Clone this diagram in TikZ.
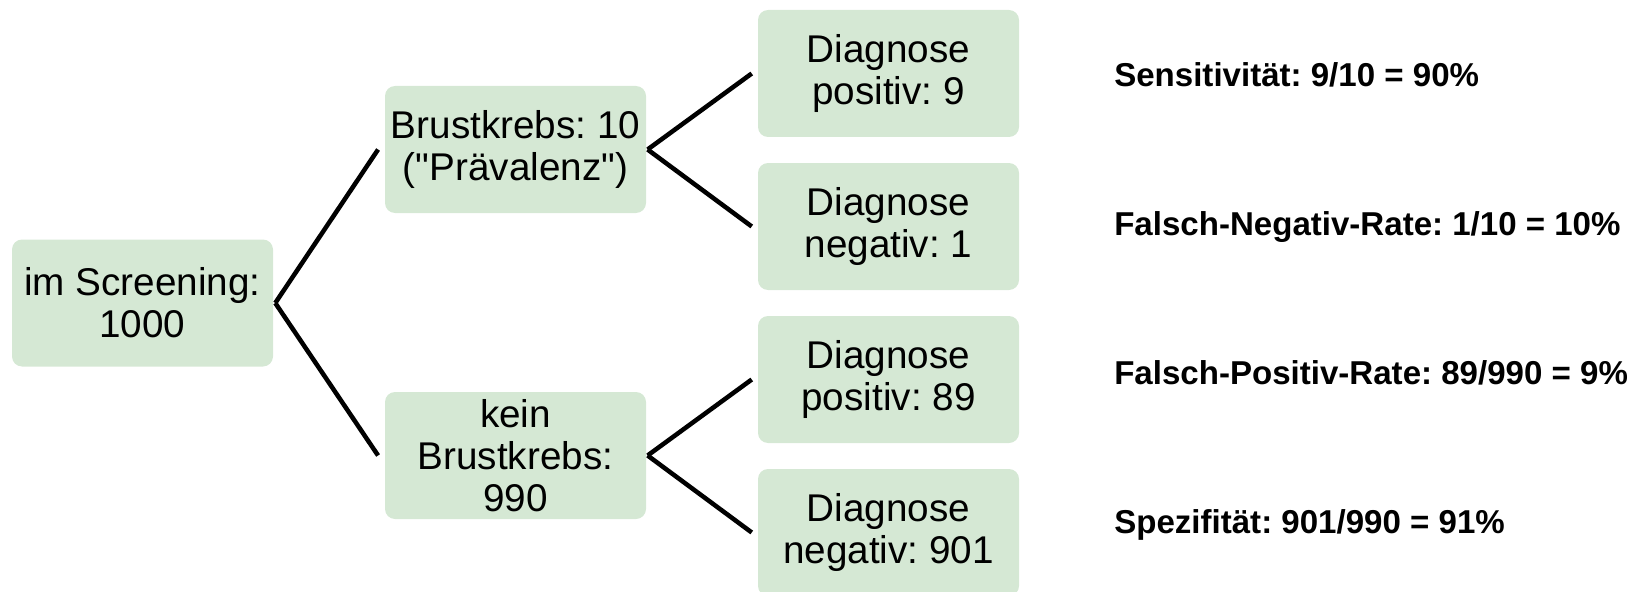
\documentclass[tikz,border=0pt]{standalone}
\usepackage{fontspec}
\setmainfont{Liberation Sans}[Ligatures=TeXOff]
\usepackage{xcolor}
\definecolor{boxgreen}{HTML}{D5E8D4}
\frenchspacing

\tikzset{
  box/.style={fill=boxgreen, rounded corners=7.5pt, inner sep=0pt, align=center,
    minimum width=195.75pt, minimum height=95.25pt,
    font=\fontsize{29}{31.5}\selectfont},
  branch/.style={line width=3.4pt},
  rate/.style={anchor=base west, inner sep=0pt, font=\bfseries\fontsize{24.8}{29}\selectfont}
}

\begin{document}
\begin{tikzpicture}[x=0.75pt,y=0.75pt,yscale=-1]
        \path[use as bounding box] (0,0) rectangle (1636,592);

        %Shape: Rounded Rect (root)
        \node (screen) [box] at (142.5,303) {im Screening:\\1000};
        %Shape: Rounded Rect (second level)
        \node (krebs) [box] at (515.5,149.5) {Brustkrebs: 10\\("Prävalenz")};
        \node (kein) [box] at (515.5,455.5) {kein\\Brustkrebs:\\990};
        %Shape: Rounded Rect (leaves)
        \node (kpos) [box] at (888.5,73.5) {Diagnose\\positiv: 9};
        \node (kneg) [box] at (888.5,226.5) {Diagnose\\negativ: 1};
        \node (npos) [box] at (888.5,379.5) {Diagnose\\positiv: 89};
        \node (nneg) [box] at (888.5,532.5) {Diagnose\\negativ: 901};

        %Straight Lines
        \draw [branch] ([xshift=1.5pt]screen.east) -- ([xshift=-5pt]krebs.west);
        \draw [branch] ([xshift=1.5pt]screen.east) -- ([xshift=-5pt]kein.west);
        \draw [branch] ([xshift=1pt]krebs.east) -- ([xshift=-4.5pt]kpos.west);
        \draw [branch] ([xshift=1pt]krebs.east) -- ([xshift=-4.5pt]kneg.west);
        \draw [branch] ([xshift=1pt]kein.east) -- ([xshift=-4.5pt]npos.west);
        \draw [branch] ([xshift=1pt]kein.east) -- ([xshift=-4.5pt]nneg.west);

        % Text Node
        \node (sens) [rate] at (1114,87) {Sensitivität: 9/10 = 90\%};
        % Text Node
        \node (fnr) [rate] at (1114,235) {Falsch-Negativ-Rate: 1/10 = 10\%};
        % Text Node
        \node (fpr) [rate] at (1114,384) {Falsch-Positiv-Rate: 89/990 = 9\%};
        % Text Node
        \node (spez) [rate] at (1114,533) {Spezifität: 901/990 = 91\%};

\end{tikzpicture}
\end{document}
